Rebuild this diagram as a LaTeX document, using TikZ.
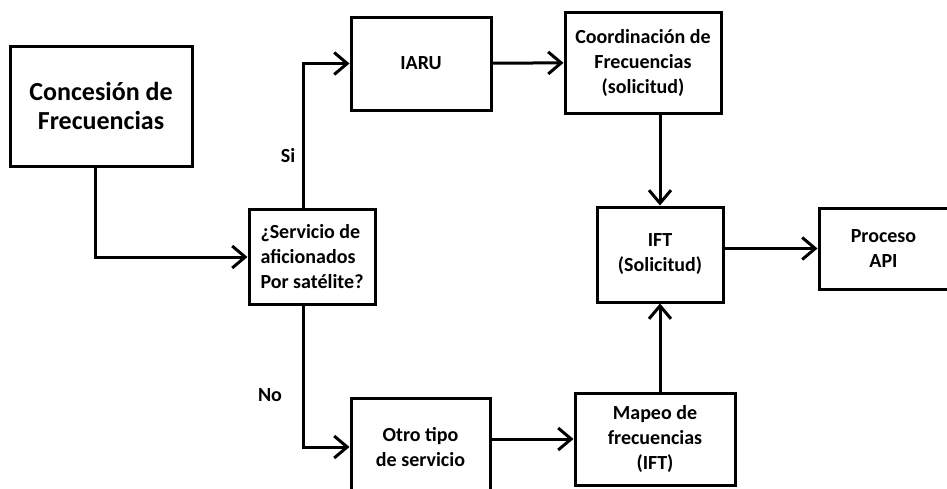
\documentclass[tikz,border=0pt]{standalone}
\usepackage{fontspec}
\setmainfont{Carlito}
\usetikzlibrary{arrows.meta,positioning}

\begin{document}
\begin{tikzpicture}[x=1pt,y=-1pt,
  box/.style={draw,line width=3pt,fill=white,align=center,inner sep=2pt,
    font=\bfseries\fontsize{20}{25}\selectfont},
  arrow/.style={-{Straight Barb[length=13pt,width=22pt]},line width=3pt},
  tag/.style={font=\bfseries\fontsize{20}{25}\selectfont}]
\useasboundingbox (0,0) rectangle (947,488);
\node[box,minimum width=182pt,minimum height=120pt,
  font=\bfseries\fontsize{26}{29}\selectfont](conc) at (101,106){Concesión de\\Frecuencias};
\node[box,minimum width=126pt,minimum height=95pt,align=left](serv) at (312,257)
  {¿Servicio de\\aficionados\\Por satélite?};
\node[box,minimum width=140pt,minimum height=93pt](iaru) at (421,63.5){IARU};
\node[box,minimum width=156pt,minimum height=101pt](coord) at (643,62.5)
  {Coordinación de\\Frecuencias\\(solicitud)};
\node[box,minimum width=126pt,minimum height=95pt](ift) at (660,254.5){IFT\\(Solicitud)};
\node[box,minimum width=129pt,minimum height=81pt](api) at (883.5,248.5){Proceso\\API};
\node[box,minimum width=139pt,minimum height=98pt](otro) at (420.5,447){Otro tipo\\de servicio};
\node[box,minimum width=160pt,minimum height=92pt](mapeo) at (655,439)
  {Mapeo de\\frecuencias\\(IFT)};
\node[tag](si) at (288,156){Si};
\node[tag](no) at (270,395){No};
\draw[arrow]([xshift=-6pt]conc.south)|-(serv.west);
\draw[arrow]([xshift=-9pt]serv.north)|-(iaru.west);
\draw[arrow]([xshift=-9pt]serv.south)|-(otro.west);
\draw[arrow](iaru)--(coord);
\draw[arrow](coord.south-|ift)--(ift.north);
\draw[arrow](mapeo.north-|ift)--(ift.south);
\draw[arrow](ift.east|-api)--(api.west);
\draw[arrow](otro.east|-mapeo.west)--(mapeo.west);
\end{tikzpicture}
\end{document}
